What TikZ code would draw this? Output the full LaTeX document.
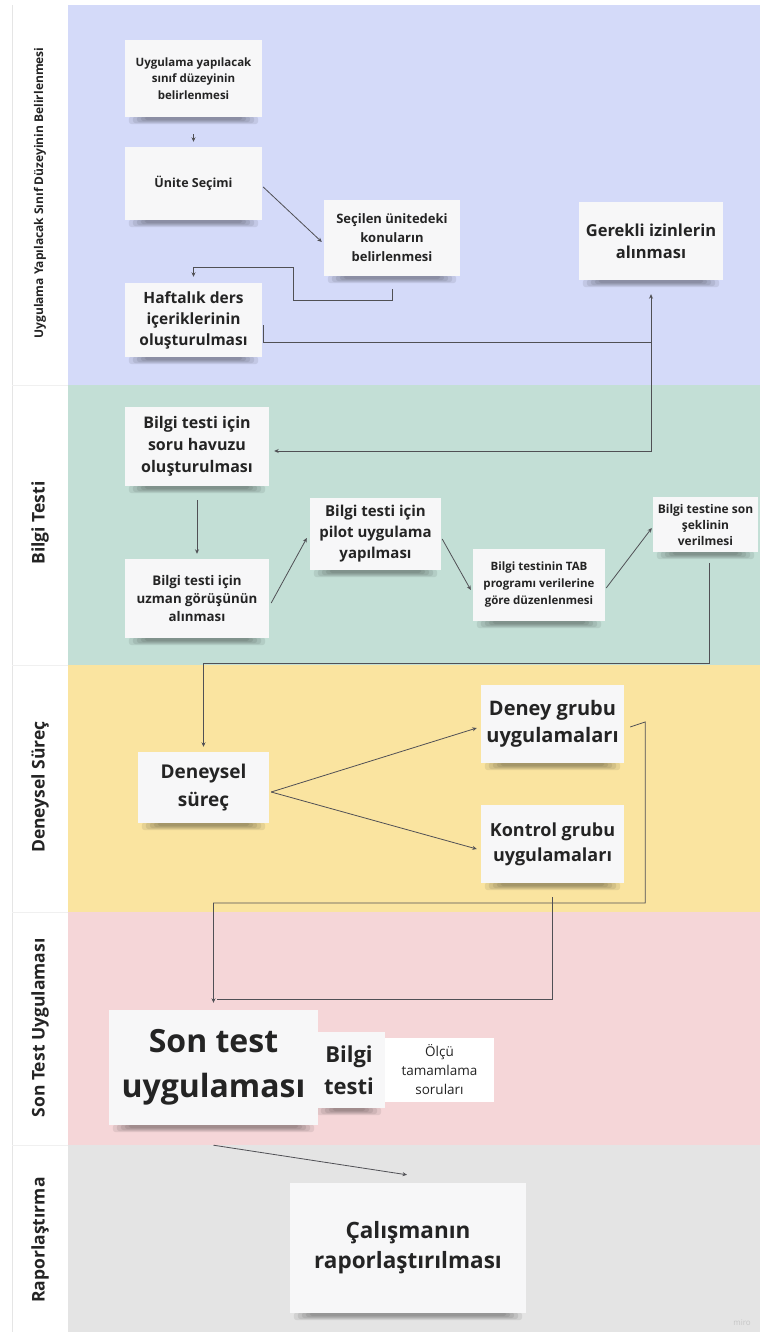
\documentclass[tikz,border=0pt]{standalone}
\usepackage{fontspec}
\setmainfont{Open Sans}
\usetikzlibrary{backgrounds}
\usetikzlibrary{calc}
\usetikzlibrary{arrows.meta}

\definecolor{lnblue}{RGB}{212,218,249}
\definecolor{lngreen}{RGB}{195,223,214}
\definecolor{lnyellow}{RGB}{250,228,160}
\definecolor{lnpink}{RGB}{245,214,216}
\definecolor{lngrey}{RGB}{228,228,228}
\definecolor{cardbg}{RGB}{247,247,248}
\definecolor{txtcol}{RGB}{36,36,36}
\definecolor{wirecol}{RGB}{80,80,85}

\newcommand{\lnxa}{12}
\newcommand{\lnxb}{68}
\newcommand{\lnxc}{760}
\newcommand{\lnya}{5}
\newcommand{\lnyb}{385}
\newcommand{\lnyc}{665}
\newcommand{\lnyd}{912}
\newcommand{\lnye}{1145}
\newcommand{\lnyf}{1332}
\newcommand{\fsz}[2]{\fontsize{#1}{#2}\selectfont}

\tikzset{
  card/.style={fill=cardbg, align=center, inner sep=2pt, text=txtcol},
  lanelbl/.style={rotate=90, text=txtcol, font=\bfseries\fsz{17.5}{20}},
  wire/.style={draw=wirecol, line width=0.8pt},
  wirearr/.style={wire, -{Stealth[length=4.5pt,width=4pt]}}
}

\begin{document}
\begin{tikzpicture}[x=1pt, y=-1pt]
  \useasboundingbox (0,0) rectangle (\lnxc,\lnyf);

  % lane titles
  \node[lanelbl, font=\bfseries\fsz{12}{14}] (lbla) at (40,193)
    {Uygulama Yapılacak Sınıf Düzeyinin Belirlenmesi};
  \node[lanelbl] (lblb) at (40,523) {Bilgi Testi};
  \node[lanelbl] (lblc) at (40,787) {Deneysel Süreç};
  \node[lanelbl] (lbld) at (40,1028) {Son Test Uygulaması};
  \node[lanelbl] (lble) at (40,1240) {Raporlaştırma};

  % first lane
  \node[card, minimum width=137, minimum height=77,
    font=\bfseries\fsz{11.5}{16.5}] (sinif) at (193.5,78.5)
    {Uygulama yapılacak\\sınıf düzeyinin\\belirlenmesi};
  \node[card, minimum width=137, minimum height=73,
    font=\bfseries\fsz{12.5}{16}] (unite) at (193.5,183.5) {Ünite Seçimi};
  \node[card, minimum width=136, minimum height=76,
    font=\bfseries\fsz{13}{19}] (konu) at (392,238)
    {Seçilen ünitedeki\\konuların\\belirlenmesi};
  \node[card, minimum width=144, minimum height=78,
    font=\bfseries\fsz{16.5}{22}] (izin) at (651,241)
    {Gerekli izinlerin\\alınması};
  \node[card, minimum width=137, minimum height=74,
    font=\bfseries\fsz{15.5}{21}] (haftalik) at (193.5,320)
    {Haftalık ders\\içeriklerinin\\oluşturulması};

  % second lane
  \node[card, minimum width=144, minimum height=79,
    font=\bfseries\fsz{16}{22}] (havuz) at (197,446.5)
    {Bilgi testi için\\soru havuzu\\oluşturulması};
  \node[card, minimum width=144, minimum height=79,
    font=\bfseries\fsz{13.3}{18}] (uzman) at (197,598.5)
    {Bilgi testi için\\uzman görüşünün\\alınması};
  \node[card, minimum width=131, minimum height=72,
    font=\bfseries\fsz{15}{21}] (pilot) at (375.5,534)
    {Bilgi testi için\\pilot uygulama\\yapılması};
  \node[card, minimum width=132, minimum height=72,
    font=\bfseries\fsz{11.5}{17}] (tab) at (539,585)
    {Bilgi testinin TAB\\programı verilerine\\göre düzenlenmesi};
  \node[card, minimum width=105, minimum height=55,
    font=\bfseries\fsz{12}{16}] (sonsekil) at (705.5,524.5)
    {Bilgi testine son\\şeklinin\\verilmesi};

  % third lane
  \node[card, minimum width=131, minimum height=71,
    font=\bfseries\fsz{19}{28}] (deneysel) at (203.5,787.5)
    {Deneysel\\süreç};
  \node[card, minimum width=143, minimum height=78,
    font=\bfseries\fsz{20}{27}] (deney) at (552.5,724)
    {Deney grubu\\uygulamaları};
  \node[card, minimum width=143, minimum height=78,
    font=\bfseries\fsz{18}{25}] (kontrol) at (552.5,844)
    {Kontrol grubu\\uygulamaları};

  % fourth and fifth lane
  \node[card, minimum width=109, minimum height=64, fill=white,
    font=\fsz{13.5}{19}] (olcu) at (439.5,1070)
    {Ölçü\\tamamlama\\soruları};
  \node[card, minimum width=72, minimum height=76,
    font=\bfseries\fsz{22}{32}] (bilgi) at (349,1070) {Bilgi\\testi};
  \node[card, minimum width=209, minimum height=115,
    font=\bfseries\fsz{32}{45}] (sontest) at (213.5,1067.5)
    {Son test\\uygulaması};
  \node[card, minimum width=236, minimum height=130,
    font=\bfseries\fsz{22.5}{30}] (rapor) at (408,1248)
    {Çalışmanın\\raporlaştırılması};

  \node[font=\fsz{8}{9}, text=gray!45] (miro) at (742,1323) {miro};

  % connectors
  \coordinate (jna) at (651,342);
  \coordinate (jnb) at (203.5,663);
  \coordinate (jnc) at (213.5,903);

  \draw[wirearr, shorten <=17pt, shorten >=5pt] (sinif) -- (unite);
  \draw[wirearr] ($(unite.east)+(1,3.5)$) -- ($(konu.west)+(-2,4)$);
  \draw[wirearr] ($(konu.south)+(0,13)$) |- (293,300) |- (193.5,267)
    -- ($(haftalik.north)+(0,-6)$);
  \draw[wirearr] ($(haftalik.east)+(1,5)$) |- (jna)
    -- ($(izin.south)+(0,14)$);
  \draw[wirearr] (jna) |- ($(havuz.east)+(5,4.5)$);
  \draw[wirearr, shorten <=14pt, shorten >=5pt] (havuz) -- (uzman);
  \draw[wirearr] ($(uzman.east)+(2,4.5)$) -- ($(pilot.west)+(-3,4)$);
  \draw[wirearr] ($(pilot.east)+(1,5)$) -- ($(tab.west)+(-2,5)$);
  \draw[wirearr] ($(tab.east)+(1,3)$) -- ($(sonsekil.west)+(-1,3.5)$);
  \draw[wirearr] ($(sonsekil.south)+(3.5,11)$) |- (jnb)
    -- ($(deneysel.north)+(0,-5)$);
  \draw[wirearr] ($(deneysel.east)+(2,4.5)$) -- ($(deney.west)+(-4,4)$);
  \draw[wirearr] ($(deneysel.east)+(2,4.5)$) -- ($(kontrol.west)+(-4,5)$);
  \draw[wirearr] ($(deney.east)+(6,3)$) -- ++(15,-5) |- (jnc)
    -- ($(sontest.north)+(0,-7)$);
  \draw[wire] ($(kontrol.south)+(0,14)$) |- ($(sontest.north)+(3,-10)$);
  \draw[wirearr] ($(sontest.south)+(0,20)$) -- ($(rapor.north)+(-1,-8)$);

  \begin{scope}[on background layer]
    \fill[lnblue] (\lnxb,\lnya) rectangle (\lnxc,\lnyb);
    \fill[lngreen] (\lnxb,\lnyb) rectangle (\lnxc,\lnyc);
    \fill[lnyellow] (\lnxb,\lnyc) rectangle (\lnxc,\lnyd);
    \fill[lnpink] (\lnxb,\lnyd) rectangle (\lnxc,\lnye);
    \fill[lngrey] (\lnxb,\lnye) rectangle (\lnxc,\lnyf);
    \draw[gray!20] (\lnxa,\lnya) -- (\lnxa,\lnyf);
    \foreach \yy in {\lnyb,\lnyc,\lnyd,\lnye}
      \draw[gray!12] (\lnxa,\yy) -- (\lnxb,\yy);

    % soft card shadows
    \foreach \n in {sinif,unite,konu,izin,haftalik,havuz,uzman,pilot,tab,
      sonsekil,deneysel,deney,kontrol,bilgi,sontest,rapor}
      \foreach \k in {0,1,2,3,4}
        \fill[black, opacity=0.08, rounded corners=3pt]
          ($(\n.south west)+(4+4*\k,-1)$)
          rectangle ($(\n.south east)+(-4-4*\k,7-\k)$);
  \end{scope}
\end{tikzpicture}
\end{document}
